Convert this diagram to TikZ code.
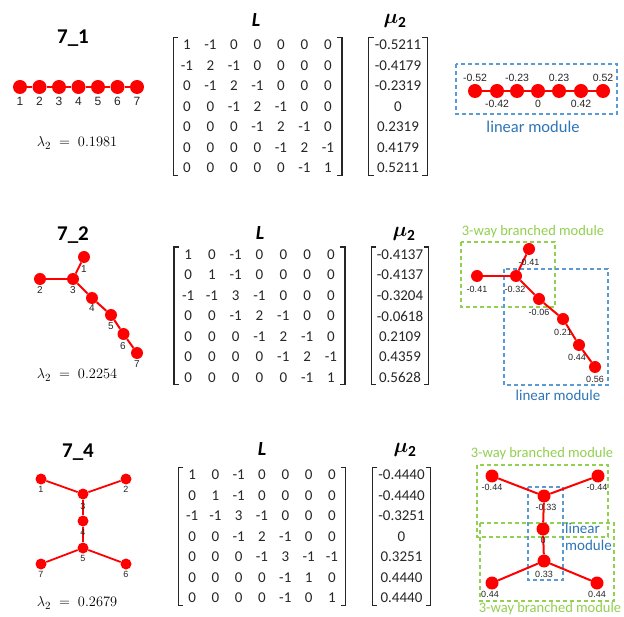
\documentclass[tikz,border=0pt]{standalone}
\usepackage{fontspec}
\usepackage{amsmath}
\setmainfont{Carlito}
\newfontfamily\arial{Liberation Sans}
\usetikzlibrary{matrix}
\definecolor{modblue}{RGB}{91,155,213}
\definecolor{txtblue}{RGB}{46,117,182}
\definecolor{modgreen}{RGB}{146,208,80}
\newcommand\mybrk[1]{%
  \draw[brk] ([xshift=5pt,yshift=-3pt]#1.north west) -| ([yshift=3pt]#1.south west) -- ++(5,0);
  \draw[brk] ([xshift=-5pt,yshift=-3pt]#1.north east) -| ([yshift=3pt]#1.south east) -- ++(-5,0);}
\tikzset{
  vtx/.style={circle,fill=red,draw=none,inner sep=0pt,minimum size=#1},
  vtx/.default=13pt,
  edg/.style={red,line width=#1},
  edg/.default=2pt,
  lbl/.style={font=\arial\fontsize{#1}{#1}\selectfont,inner sep=0pt,text=black!85},
  lbl/.default=10,
  ttl/.style={font=\fontsize{21}{23}\selectfont\bfseries,inner sep=0pt},
  hdr/.style={font=\fontsize{20}{22}\selectfont\bfseries\itshape,inner sep=0pt},
  mhdr/.style={font=\fontsize{22}{24}\selectfont,inner sep=0pt},
  lam/.style={font=\fontsize{15.5}{17}\selectfont,inner sep=0pt},
  brk/.style={line width=1.1pt,black!85},
  matL/.style={matrix of nodes,inner xsep=2pt,inner ysep=0pt,row sep=0pt,column sep=0pt,
    nodes={anchor=center,inner sep=0pt,minimum width=#1,minimum height=20.5pt,
      font=\fontsize{15}{17}\selectfont,text=black!85}},
  matV/.style={matrix of nodes,inner xsep=2pt,inner ysep=0pt,row sep=0pt,
    nodes={anchor=center,inner sep=0pt,minimum width=#1,minimum height=20.5pt,
      font=\fontsize{15}{17}\selectfont,text=black!85}},
  bluebox/.style={draw=modblue,line width=1.2pt,dash pattern=on 4pt off 3pt},
  greenbox/.style={draw=modgreen,line width=1.2pt,dash pattern=on 4pt off 3pt},
  btxt/.style={font=\fontsize{#1}{16.5}\selectfont,text=txtblue,inner sep=0pt},
  btxt/.default=15,
  gtxt/.style={font=\fontsize{14.5}{16}\selectfont,text=modgreen,inner sep=0pt},
}
\begin{document}
\begin{tikzpicture}[x=1pt,y=-1pt]
\useasboundingbox (0,0) rectangle (624,617);
\fill[white] (0,0) rectangle (624,617);

% ===================== Panel 1 =====================
\node[ttl] (t1) at (73,38) {7\_1};
\foreach \i/\x in {1/20,2/39.5,3/59,4/78.5,5/98,6/117.5,7/137}{
  \node[vtx=14pt] (a\i) at (\x,87) {};
  \node[lbl=12] (al\i) at (\x,101) {\i};
}
\foreach \a/\b in {1/2,2/3,3/4,4/5,5/6,6/7}{\draw[edg=2.5pt] (a\a) -- (a\b);}
\node[lam] (lam1) at (77,143) {$\lambda_2 \;=\; 0.1981$};

\node[hdr] (L1h) at (256,20) {L};
\node[mhdr] (M1h) at (395,21) {$\boldsymbol{\mu}_{\mathbf{2}}$};
\matrix (L1) at (257.5,106.5) [matL=23.5pt] {
1 & -1 & 0 & 0 & 0 & 0 & 0\\
-1 & 2 & -1 & 0 & 0 & 0 & 0\\
0 & -1 & 2 & -1 & 0 & 0 & 0\\
0 & 0 & -1 & 2 & -1 & 0 & 0\\
0 & 0 & 0 & -1 & 2 & -1 & 0\\
0 & 0 & 0 & 0 & -1 & 2 & -1\\
0 & 0 & 0 & 0 & 0 & -1 & 1\\
};
\mybrk{L1}
\matrix (V1) at (398,106.5) [matV=54pt] {
-0.5211\\ -0.4179\\ -0.2319\\ 0\\ 0.2319\\ 0.4179\\ 0.5211\\
};
\mybrk{V1}

\draw[bluebox] (456,64) rectangle (617,114);
\foreach \i/\x in {1/475,2/497,3/517,4/538,5/559,6/581,7/603}{
  \node[vtx=14pt] (b\i) at (\x,91) {};
}
\foreach \a/\b in {1/2,2/3,3/4,4/5,5/6,6/7}{\draw[edg=2.5pt] (b\a) -- (b\b);}
\node[lbl=10.5] (bl1) at (475,78) {-0.52};
\node[lbl=10.5] (bl3) at (517,78) {-0.23};
\node[lbl=10.5] (bl5) at (559,78) {0.23};
\node[lbl=10.5] (bl7) at (603,78) {0.52};
\node[lbl=10.5] (bl2) at (497,103.5) {-0.42};
\node[lbl=10.5] (bl4) at (538,103.5) {0};
\node[lbl=10.5] (bl6) at (581,103.5) {0.42};
\node[btxt=16.5] (bt1) at (533,127) {linear module};

% ===================== Panel 2 =====================
\node[ttl] (t2) at (73,235) {7\_2};
\node[vtx=12pt] (c1) at (84,257) {};
\node[vtx=12pt] (c2) at (40,279) {};
\node[vtx=12pt] (c3) at (73,279) {};
\node[vtx=12pt] (c4) at (92,298) {};
\node[vtx=12pt] (c5) at (111,315) {};
\node[vtx=12pt] (c6) at (123.5,334) {};
\node[vtx=12pt] (c7) at (137,353) {};
\foreach \a/\b in {1/3,2/3,3/4,4/5,5/6,6/7}{\draw[edg=2pt] (c\a) -- (c\b);}
\node[lbl=10] (cl1) at (84,269.5) {1};
\node[lbl=10] (cl2) at (40,290.5) {2};
\node[lbl=10] (cl3) at (73,290.5) {3};
\node[lbl=10] (cl4) at (92,308.5) {4};
\node[lbl=10] (cl5) at (111,326.5) {5};
\node[lbl=10] (cl6) at (123,346) {6};
\node[lbl=10] (cl7) at (137,364.5) {7};
\node[lam] (lam2) at (77,375) {$\lambda_2 \;=\; 0.2254$};

\node[hdr] (L2h) at (260,233) {L};
\node[mhdr] (M2h) at (404,234) {$\boldsymbol{\mu}_{\mathbf{2}}$};
\matrix (L2) at (259.5,316) [matL=23.8pt] {
1 & 0 & -1 & 0 & 0 & 0 & 0\\
0 & 1 & -1 & 0 & 0 & 0 & 0\\
-1 & -1 & 3 & -1 & 0 & 0 & 0\\
0 & 0 & -1 & 2 & -1 & 0 & 0\\
0 & 0 & 0 & -1 & 2 & -1 & 0\\
0 & 0 & 0 & 0 & -1 & 2 & -1\\
0 & 0 & 0 & 0 & 0 & -1 & 1\\
};
\mybrk{L2}
\matrix (V2) at (400,316) [matV=53pt] {
-0.4137\\ -0.4137\\ -0.3204\\ -0.0618\\ 0.2109\\ 0.4359\\ 0.5628\\
};
\mybrk{V2}

\node[gtxt] (gt2) at (533,232) {3-way branched module};
\draw[greenbox] (461,242) rectangle (555,307);
\draw[bluebox] (504,269) rectangle (608,385);
\node[btxt] (bt2) at (558,395) {linear module};
\node[vtx=12pt] (d1) at (529,249) {};
\node[vtx=12pt] (d2) at (477,276) {};
\node[vtx=12pt] (d3) at (516,276) {};
\node[vtx=12pt] (d4) at (539,299) {};
\node[vtx=12pt] (d5) at (563,319) {};
\node[vtx=12pt] (d6) at (579,345) {};
\node[vtx=12pt] (d7) at (595,367) {};
\foreach \a/\b in {1/3,2/3,3/4,4/5,5/6,6/7}{\draw[edg=2pt] (d\a) -- (d\b);}
\node[lbl=9] (dl1) at (529,262) {-0.41};
\node[lbl=9] (dl2) at (477,289.5) {-0.41};
\node[lbl=9] (dl3) at (515,289.5) {-0.32};
\node[lbl=9] (dl4) at (539,312) {-0.06};
\node[lbl=9] (dl5) at (563,332) {0.21};
\node[lbl=9] (dl6) at (577,357) {0.44};
\node[lbl=9] (dl7) at (595,379) {0.56};

% ===================== Panel 3 =====================
\node[ttl] (t3) at (78,452) {7\_4};
\node[vtx=11pt] (e1) at (41,479) {};
\node[vtx=11pt] (e2) at (126,479) {};
\node[vtx=11pt] (e3) at (83,494) {};
\node[vtx=11pt] (e4) at (83,521) {};
\node[vtx=11pt] (e5) at (83,548) {};
\node[vtx=11pt] (e6) at (126,564) {};
\node[vtx=11pt] (e7) at (41,564) {};
\foreach \a/\b in {1/3,2/3,3/4,4/5,5/6,5/7}{\draw[edg=1.8pt] (e\a) -- (e\b);}
\node[lbl=9] (el1) at (41,489.5) {1};
\node[lbl=9] (el2) at (126,489.5) {2};
\node[lbl=9] (el3) at (83,506) {3};
\node[lbl=9] (el4) at (83,532) {4};
\node[lbl=9] (el5) at (83,558) {5};
\node[lbl=9] (el6) at (126,574.5) {6};
\node[lbl=9] (el7) at (41,574.5) {7};
\node[lam] (lam3) at (77,603) {$\lambda_2 \;=\; 0.2679$};

\node[hdr] (L3h) at (262,449) {L};
\node[mhdr] (M3h) at (405,450) {$\boldsymbol{\mu}_{\mathbf{2}}$};
\matrix (L3) at (262,536.5) [matL=23.3pt] {
1 & 0 & -1 & 0 & 0 & 0 & 0\\
0 & 1 & -1 & 0 & 0 & 0 & 0\\
-1 & -1 & 3 & -1 & 0 & 0 & 0\\
0 & 0 & -1 & 2 & -1 & 0 & 0\\
0 & 0 & 0 & -1 & 3 & -1 & -1\\
0 & 0 & 0 & 0 & -1 & 1 & 0\\
0 & 0 & 0 & 0 & -1 & 0 & 1\\
};
\mybrk{L3}
\matrix (V3) at (401.5,536.5) [matV=54pt] {
-0.4440\\ -0.4440\\ -0.3251\\ 0\\ 0.3251\\ 0.4440\\ 0.4440\\
};
\mybrk{V3}

\node[gtxt] (gt3a) at (542,454) {3-way branched module};
\draw[greenbox] (477,465) rectangle (608,537);
\draw[greenbox] (480,523) rectangle (614,601);
\node[gtxt] (gt3b) at (550,608.5) {3-way branched module};
\draw[bluebox] (528,487) rectangle (563,580);
\node[btxt,align=left,anchor=west] (bt3) at (565,537) {linear\\module};
\node[vtx=13pt] (f1) at (492,476) {};
\node[vtx=13pt] (f2) at (598,476) {};
\node[vtx=13pt] (f3) at (544,496) {};
\node[vtx=13pt] (f4) at (543,529) {};
\node[vtx=13pt] (f5) at (544,561) {};
\node[vtx=13pt] (f6) at (597,583) {};
\node[vtx=13pt] (f7) at (492,583) {};
\foreach \a/\b in {1/3,2/3,3/4,4/5,5/6,5/7}{\draw[edg=2pt] (f\a) -- (f\b);}
\node[lbl=9] (fl1) at (492,487.5) {-0.44};
\node[lbl=9] (fl2) at (597,487.5) {-0.44};
\node[lbl=9] (fl3) at (546,507.5) {-0.33};
\node[lbl=9] (fl4) at (543,540) {0};
\node[lbl=9] (fl5) at (544,574) {0.33};
\node[lbl=9] (fl6) at (597,594) {0.44};
\node[lbl=9] (fl7) at (490,594) {0.44};
\end{tikzpicture}
\end{document}
